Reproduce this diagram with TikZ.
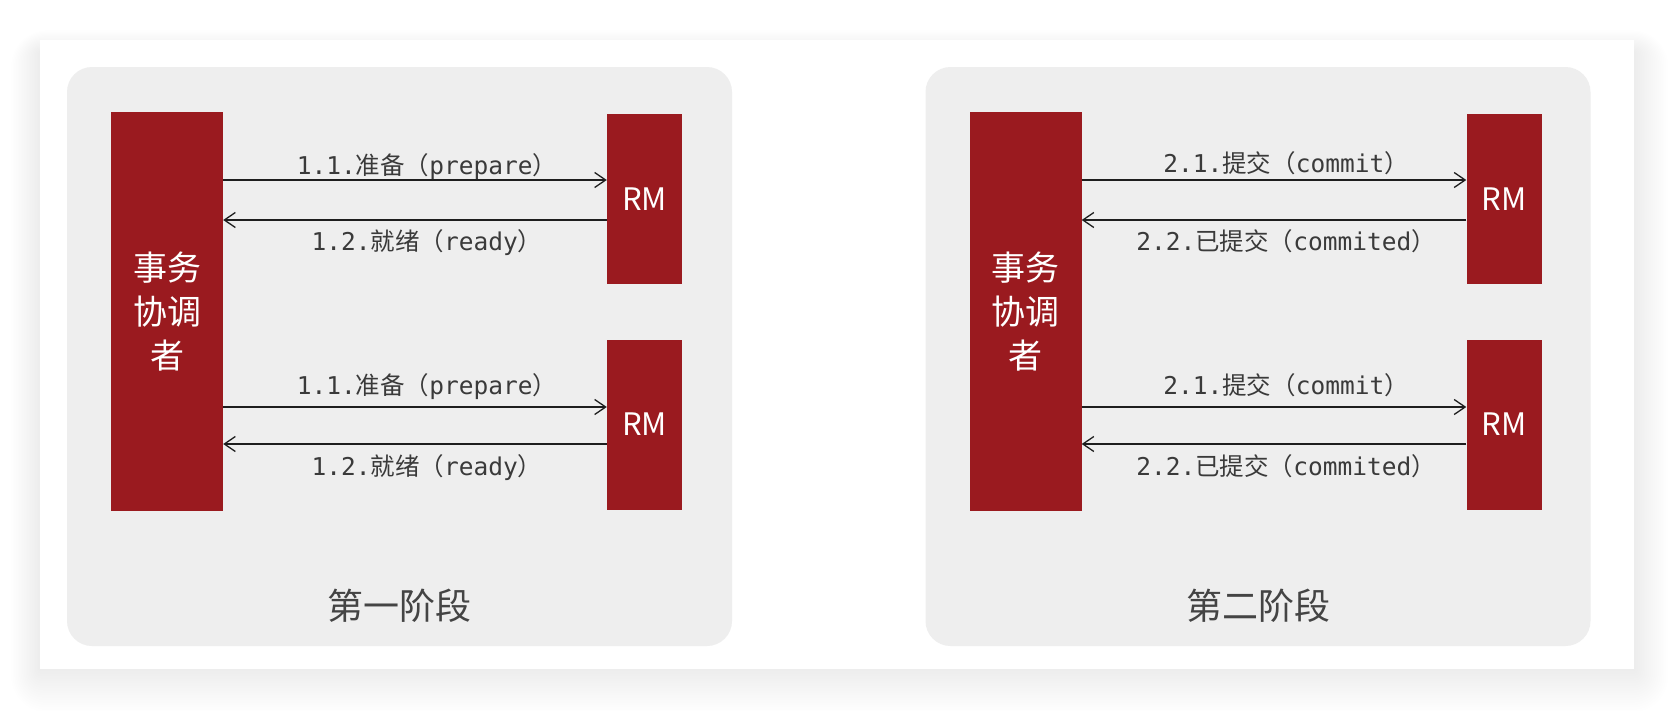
\documentclass[tikz,border=0pt]{standalone}
\usepackage{fontspec}
\setmonofont{DejaVu Sans Mono}
\newfontfamily\cjk{Noto Sans CJK SC}
\usepackage{tikz}
\usetikzlibrary{arrows.meta, positioning}

\definecolor{txred}{HTML}{9A1A1F}
\definecolor{panelgray}{HTML}{EEEEEE}
\definecolor{labelgray}{HTML}{3A3A3A}
\definecolor{phasegray}{HTML}{444444}
\definecolor{arrowblack}{HTML}{1E1E1E}

\newcommand{\zh}[1]{{\cjk #1}}
\newcommand{\steplabel}[3]{\texttt{#1}\zh{#2（}\texttt{#3}\zh{）}}

\begin{document}
\begin{tikzpicture}[
  x=1pt, y=-1pt,
  panel/.style={rectangle, fill=panelgray, rounded corners=25pt, minimum width=665pt, minimum height=579pt, inner sep=0pt},
  tcbox/.style={rectangle, fill=txred, text=white, minimum width=112pt, minimum height=399pt, inner sep=0pt, align=center, font=\cjk\fontsize{34}{44}\selectfont},
  rmbox/.style={rectangle, fill=txred, text=white, minimum width=75pt, minimum height=170pt, inner sep=0pt, font=\cjk\fontsize{31}{36}\selectfont},
  msg/.style={text=labelgray, inner sep=0pt, anchor=base, xshift=12pt, font=\fontsize{24.5}{28}\selectfont},
  phase/.style={text=phasegray, inner sep=0pt, font=\cjk\fontsize{36}{44}\selectfont},
  arrow/.style={-{Straight Barb[length=11pt, width=15pt]}, line width=1.3pt, draw=arrowblack}
]
\useasboundingbox (0,0) rectangle (1674,710);

% card with soft shadow
\foreach \i in {1,...,18}
  \fill[black, opacity=0.0035, rounded corners=2*\i] (40-1.6*\i,52-1.2*\i) rectangle (1634+1.9*\i,669+2.4*\i);
\fill[white] (40,40) rectangle (1634,669);

\node[panel] (lpanel) at (399.5,356.5) {};
\node[panel] (rpanel) at (1258,356.5) {};

% first phase
\node[tcbox] (ltc) at (167,311.5) {事务\\协调\\者};
\node[rmbox] (lrm1) at (644.5,199) {RM};
\node[rmbox] (lrm2) at (644.5,424.5) {RM};
\node[phase, above=23pt of lpanel.south] (lphase) {第一阶段};

% second phase
\node[tcbox] (rtc) at (1025.5,311.5) {事务\\协调\\者};
\node[rmbox] (rrm1) at (1504,199) {RM};
\node[rmbox] (rrm2) at (1504,424.5) {RM};
\node[phase, above=23pt of rpanel.south] (rphase) {第二阶段};

\draw[arrow] ([yshift=19pt]lrm1.west -| ltc.east) -- ([yshift=19pt]lrm1.west)
  node[msg, midway, yshift=6pt] {\steplabel{1.1.}{准备}{prepare}};
\draw[arrow] ([yshift=-21pt]lrm1.west) -- ([yshift=-21pt]lrm1.west -| ltc.east)
  node[msg, midway, yshift=-30pt] {\steplabel{1.2.}{就绪}{ready}};
\draw[arrow] ([yshift=17.5pt]lrm2.west -| ltc.east) -- ([yshift=17.5pt]lrm2.west)
  node[msg, midway, yshift=13pt] {\steplabel{1.1.}{准备}{prepare}};
\draw[arrow] ([yshift=-19.5pt]lrm2.west) -- ([yshift=-19.5pt]lrm2.west -| ltc.east)
  node[msg, midway, yshift=-31pt] {\steplabel{1.2.}{就绪}{ready}};

\draw[arrow] ([yshift=19pt]rrm1.west -| rtc.east) -- ([yshift=19pt]rrm1.west)
  node[msg, midway, yshift=8pt] {\steplabel{2.1.}{提交}{commit}};
\draw[arrow] ([yshift=-21pt]rrm1.west) -- ([yshift=-21pt]rrm1.west -| rtc.east)
  node[msg, midway, yshift=-30pt] {\steplabel{2.2.}{已提交}{commited}};
\draw[arrow] ([yshift=17.5pt]rrm2.west -| rtc.east) -- ([yshift=17.5pt]rrm2.west)
  node[msg, midway, yshift=13pt] {\steplabel{2.1.}{提交}{commit}};
\draw[arrow] ([yshift=-19.5pt]rrm2.west) -- ([yshift=-19.5pt]rrm2.west -| rtc.east)
  node[msg, midway, yshift=-31pt] {\steplabel{2.2.}{已提交}{commited}};

\end{tikzpicture}
\end{document}
